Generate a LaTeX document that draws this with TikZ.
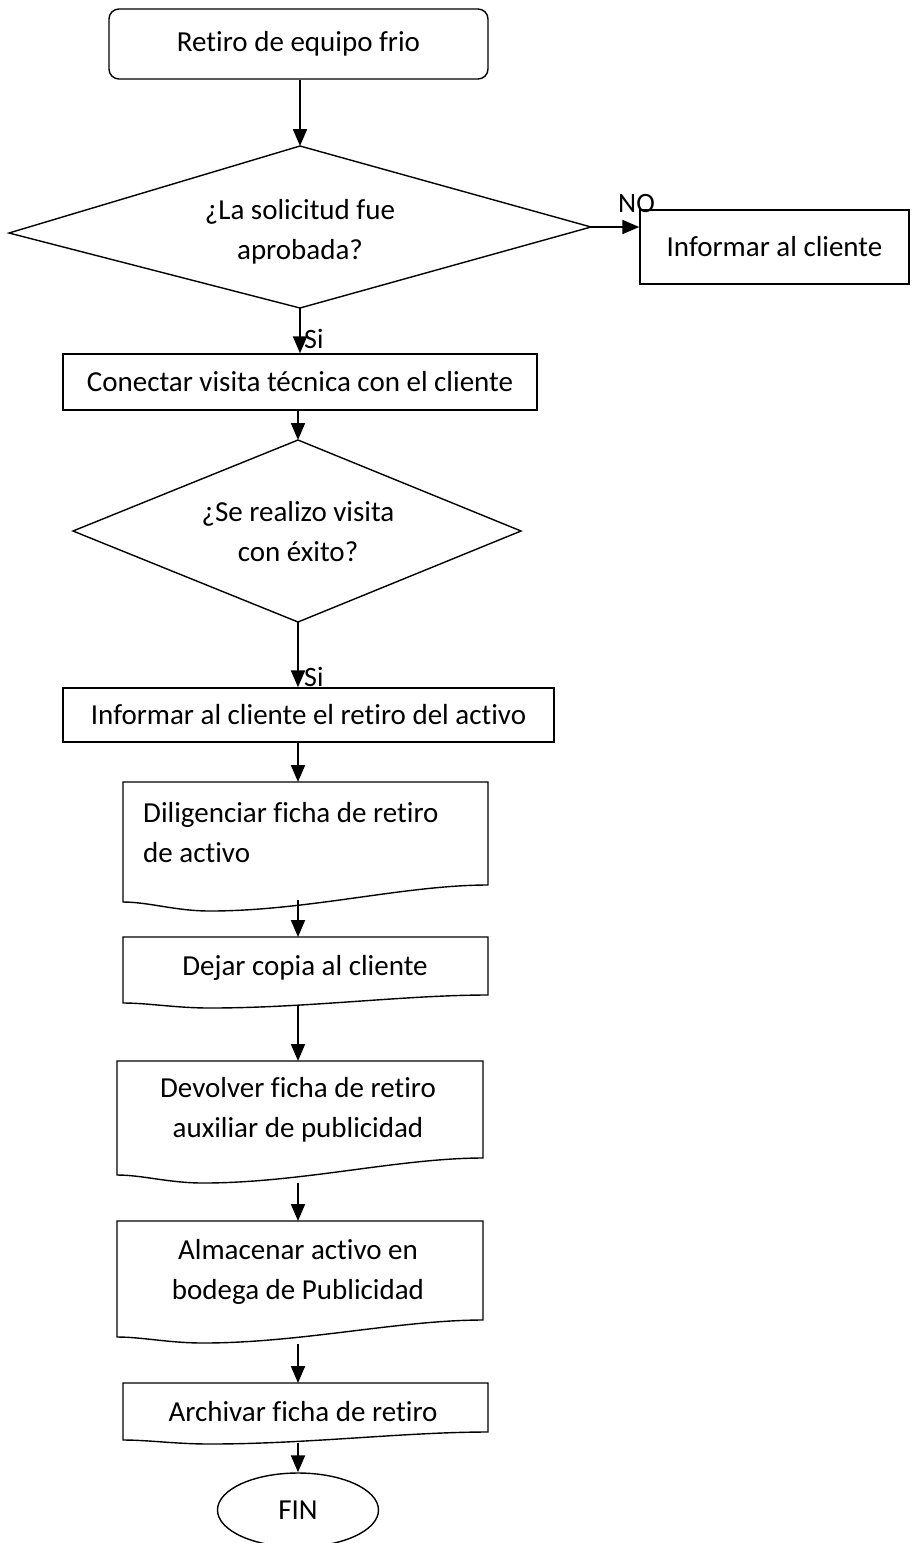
\documentclass[tikz,border=0pt]{standalone}
\usepackage{fontspec}
\setmainfont{Carlito}[Ligatures=NoCommon]
\usetikzlibrary{arrows.meta,shapes.geometric}
\newcommand{\mydoc}[7]{\draw[shp] (#1,#3) -- (#2,#3) -- (#2,#7) .. controls ({#2-0.3*(#2-#5)},#7) and ({#5+0.35*(#2-#5)},#6) .. (#5,#6) .. controls ({#5-0.4*(#5-#1)},#6) and ({#1+0.3*(#5-#1)},#4) .. (#1,#4) -- cycle;}
\begin{document}
\begin{tikzpicture}[x=1pt,y=-1pt,line join=miter,
  shp/.style={draw,line width=1.4pt},
  txt/.style={font=\fontsize{29}{40}\selectfont,align=center,inner sep=0pt},
  lbl/.style={font=\fontsize{28}{30}\selectfont,inner sep=0pt},
  arr/.style={line width=2pt,-{Triangle[length=17pt,width=14pt]}}]
\useasboundingbox (0,0) rectangle (912,1543);
% start
\node[shp,rounded corners=10pt,minimum width=379pt,minimum height=70pt,txt] (start) at (298.5,44) {Retiro de equipo frio};
% decision 1
\coordinate (d1t) at (300,146);
\coordinate (d1l) at (9,233);
\coordinate (d1r) at (591,227);
\coordinate (d1b) at (300,308);
\draw[shp] (d1t) -- (d1r) -- (d1b) -- (d1l) -- cycle;
\node[txt] (d1txt) at (300,232) {¿La solicitud fue\\aprobada?};
% no box
\node[shp,minimum width=269pt,minimum height=74pt,txt] (no) at (774.5,247) {Informar al cliente};
\node[lbl,anchor=west] (nolbl) at (618,204) {NO};
% box 2
\node[shp,minimum width=474pt,minimum height=56pt,txt] (b2) at (300,382) {Conectar visita técnica con el cliente};
\node[lbl,anchor=west] (si1) at (304,339) {Si};
% decision 2
\coordinate (d2t) at (298,440);
\coordinate (d2l) at (73,531);
\coordinate (d2r) at (521,531);
\coordinate (d2b) at (298,622);
\draw[shp] (d2t) -- (d2r) -- (d2b) -- (d2l) -- cycle;
\node[txt] (d2txt) at (298,532) {¿Se realizo visita\\con éxito?};
% box 3
\node[shp,minimum width=491pt,minimum height=54pt,txt] (b3) at (308.5,715) {Informar al cliente el retiro del activo};
\node[lbl,anchor=west] (si2) at (304,677) {Si};
% documents
\mydoc{123}{488}{782}{902}{210}{911}{885}
\node[txt,align=left,anchor=west] (doc1) at (143,833) {Diligenciar ficha de retiro\\de activo};
\coordinate (doc1in) at (298,782);
\coordinate (doc1out) at (298,900);
\mydoc{123}{488}{937}{1003}{210}{1008}{995}
\node[txt] (doc2) at (305,968) {Dejar copia al cliente};
\coordinate (doc2in) at (298,937);
\coordinate (doc2out) at (298,1006);
\mydoc{117}{483}{1061}{1175}{203}{1183}{1158}
\node[txt] (doc3) at (298,1110) {Devolver ficha de retiro\\auxiliar de publicidad};
\coordinate (doc3in) at (298,1061);
\coordinate (doc3out) at (298,1183);
\mydoc{117}{483}{1221}{1337}{203}{1343}{1320}
\node[txt] (doc4) at (298,1272) {Almacenar activo en\\bodega de Publicidad};
\coordinate (doc4in) at (298,1221);
\coordinate (doc4out) at (298,1344);
\mydoc{123}{488}{1383}{1440}{210}{1444}{1432}
\node[txt] (doc5) at (303,1412) {Archivar ficha de retiro};
\coordinate (doc5in) at (298,1383);
\coordinate (doc5out) at (298,1443);
% end
\node[shp,ellipse,minimum width=161pt,minimum height=74pt,txt] (fin) at (298,1510) {FIN};
% connectors
\draw[arr] (start.south -| d1t) -- (d1t);
\draw[arr] (d1r) -- (d1r -| no.west);
\draw[arr] (d1b) -- (b2.north -| d1b);
\draw[arr] (b2.south -| d2t) -- (d2t);
\draw[arr] (d2b) -- (b3.north -| d2b);
\draw[arr] (b3.south -| doc1in) -- (doc1in);
\draw[arr] (doc1out) -- (doc2in);
\draw[arr] (doc2out) -- (doc3in);
\draw[arr] (doc3out) -- (doc4in);
\draw[arr] (doc4out) -- (doc5in);
\draw[arr] (doc5out) -- (fin.north);
\end{tikzpicture}
\end{document}
